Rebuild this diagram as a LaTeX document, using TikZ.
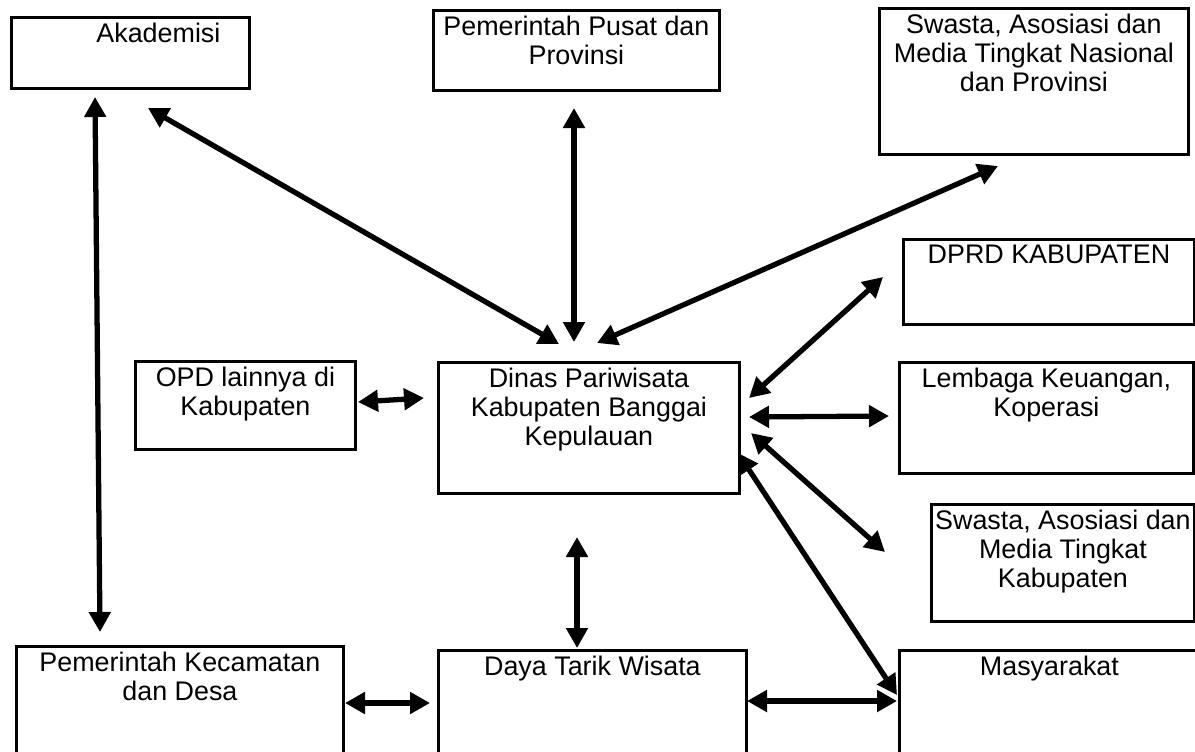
\documentclass[tikz,border=0pt]{standalone}
\usepackage{fontspec}
\setmainfont{Liberation Sans}
\usetikzlibrary{arrows.meta}
\tikzset{
  kotak/.style 2 args={
    draw,
    line width=1.6pt,
    anchor=north west,
    inner sep=0pt,
    minimum width=#1*0.02cm,
    minimum height=#2*0.02cm
  },
  judul/.style={
    anchor=north,
    align=center,
    inner sep=0pt,
    yshift=-0.14cm,
    font=\fontsize{15.3}{16.4}\selectfont
  },
  panah/.style={
    {Triangle[length=0.4cm,width=0.42cm]}-{Triangle[length=0.4cm,width=0.42cm]},
    line width=3pt
  }
}

\begin{document}
\begin{tikzpicture}[x=0.02cm,y=-0.02cm]
  \clip (0,0) rectangle (1195,751);
  \node[kotak={238}{71}, label={[judul,xshift=0.56cm]north:{Akademisi}}] (aka) at (10,16) {};
  \node[kotak={286}{80}, label={[judul]north:{Pemerintah Pusat dan\\Provinsi}}] (pusat) at (432,9) {};
  \node[kotak={309}{146}, label={[judul]north:{Swasta, Asosiasi dan\\Media Tingkat Nasional\\dan Provinsi}}] (nasional) at (878,7) {};
  \node[kotak={291}{85}, label={[judul]north:{DPRD KABUPATEN}}] (dprd) at (902,238) {};
  \node[kotak={220}{88}, label={[judul]north:{OPD lainnya di\\Kabupaten}}] (opd) at (134,360) {};
  \node[kotak={301}{131}, label={[judul]north:{Dinas Pariwisata\\Kabupaten Banggai\\Kepulauan}}] (dinas) at (437,361) {};
  \node[kotak={294}{111}, label={[judul]north:{Lembaga Keuangan,\\Koperasi}}] (lembaga) at (898,361) {};
  \node[kotak={263}{117}, label={[judul]north:{Swasta, Asosiasi dan\\Media Tingkat\\Kabupaten}}] (swkab) at (930,503) {};
  \node[kotak={327}{120}, label={[judul]north:{Pemerintah Kecamatan\\dan Desa}}] (kec) at (15,645) {};
  \node[kotak={308}{120}, label={[judul]north:{Daya Tarik Wisata}}] (daya) at (437,649) {};
  \node[kotak={300}{120}, label={[judul]north:{Masyarakat}}] (masy) at (898,649) {};

  % ujung panah
  \coordinate (aka-a) at (95,97);     \coordinate (kec-a) at (100,632);
  \coordinate (aka-b) at (148,108);   \coordinate (dinas-a) at (559,344);
  \coordinate (pusat-a) at (574,108); \coordinate (dinas-b) at (574,342);
  \coordinate (nas-a) at (998,166);   \coordinate (dinas-c) at (597,343);
  \coordinate (dprd-a) at (883,277);  \coordinate (dinas-d) at (749,398);
  \coordinate (lemb-a) at (889,416);  \coordinate (dinas-e) at (749,417);
  \coordinate (swkab-a) at (885,552); \coordinate (dinas-f) at (751,433);
  \coordinate (masy-a) at (897,695);  \coordinate (dinas-g) at (738,453);
  \coordinate (opd-a) at (358,402);   \coordinate (dinas-h) at (424,398);
  \coordinate (dinas-i) at (577,537); \coordinate (daya-a) at (577,648);
  \coordinate (kec-b) at (345,703);   \coordinate (daya-b) at (430,703);
  \coordinate (daya-c) at (747,701);  \coordinate (masy-b) at (897,701);

  \foreach \from/\to in {aka-a/kec-a,aka-b/dinas-a,pusat-a/dinas-b,nas-a/dinas-c,dprd-a/dinas-d,lemb-a/dinas-e,swkab-a/dinas-f,masy-a/dinas-g,opd-a/dinas-h,dinas-i/daya-a,kec-b/daya-b,daya-c/masy-b}{\draw[panah] (\from) -- (\to);}
\end{tikzpicture}
\end{document}
